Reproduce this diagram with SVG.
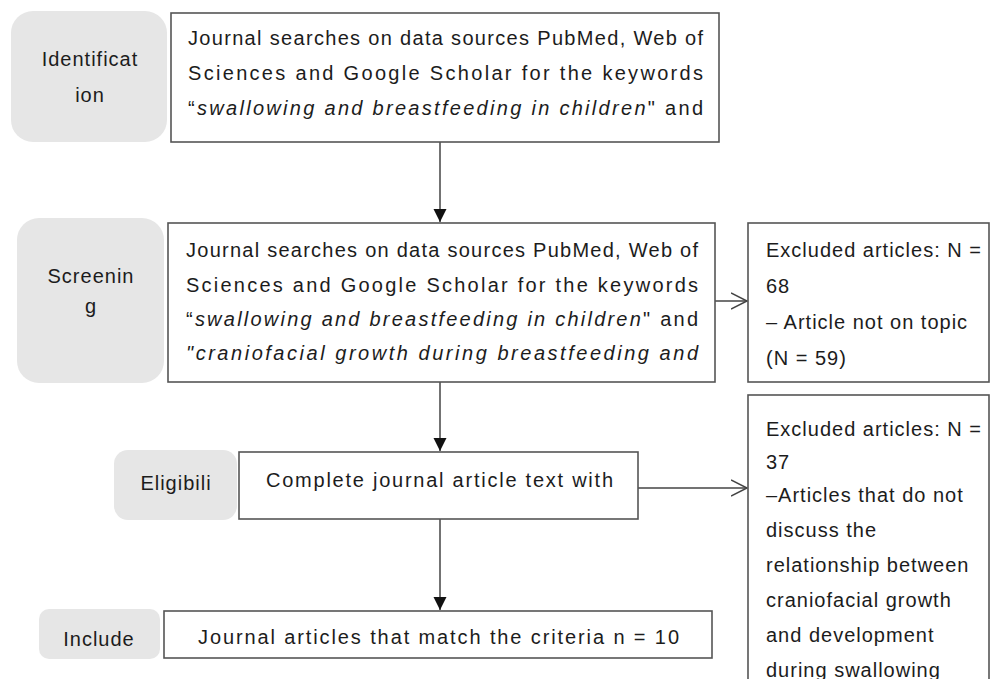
<svg xmlns="http://www.w3.org/2000/svg" width="992" height="679" viewBox="0 0 992 679">
<style>
.lbl{fill:#e6e6e6;stroke:none}
.box{fill:#fff;stroke:#555;stroke-width:1.6}
.t{font-family:"Liberation Sans","DejaVu Sans",sans-serif;font-size:20px;fill:#1c1c1c}
.c{text-anchor:middle}
.ls{letter-spacing:1px}
.i{font-style:italic}
.conn{stroke:#444;stroke-width:1.5;fill:none}
</style>
<defs>
<marker id="fa" markerUnits="userSpaceOnUse" markerWidth="14" markerHeight="14" refX="13" refY="6.5" orient="auto">
<path d="M0,0 L13,6.5 L0,13 z" fill="#111"/>
</marker>
<marker id="oa" markerUnits="userSpaceOnUse" markerWidth="20" markerHeight="20" refX="16" refY="9" orient="auto">
<path d="M0,1 L16,9 L0,17" fill="none" stroke="#444" stroke-width="1.5"/>
</marker>
</defs>

<g id="connectors">
<line class="conn" x1="440" y1="142" x2="440" y2="222" marker-end="url(#fa)"/>
<line class="conn" x1="440" y1="382" x2="440" y2="451" marker-end="url(#fa)"/>
<line class="conn" x1="440" y1="519" x2="440" y2="610" marker-end="url(#fa)"/>
<line class="conn" x1="715" y1="301" x2="747" y2="301" marker-end="url(#oa)"/>
<line class="conn" x1="638" y1="488" x2="747" y2="488" marker-end="url(#oa)"/>
</g>

<g id="identification">
<rect class="lbl" x="11" y="11" width="156" height="131" rx="22"/>
<text class="t c ls" x="90" y="66">Identificat</text>
<text class="t c ls" x="90" y="102">ion</text>
<rect class="box" x="171" y="13" width="548" height="129"/>
<text class="t" x="188" y="45" textLength="515" lengthAdjust="spacing">Journal searches on data sources PubMed, Web of</text>
<text class="t" x="188" y="80" textLength="515" lengthAdjust="spacing">Sciences and Google Scholar for the keywords</text>
<text class="t" x="188" y="115" textLength="515" lengthAdjust="spacing">“<tspan class="i">swallowing and breastfeeding in children</tspan>" and</text>
</g>

<g id="screening">
<rect class="lbl" x="17" y="218" width="147" height="165" rx="22"/>
<text class="t c ls" x="91" y="283">Screenin</text>
<text class="t c ls" x="91" y="313">g</text>
<rect class="box" x="168" y="223" width="547" height="159"/>
<text class="t" x="186" y="257" textLength="512" lengthAdjust="spacing">Journal searches on data sources PubMed, Web of</text>
<text class="t" x="186" y="292" textLength="512" lengthAdjust="spacing">Sciences and Google Scholar for the keywords</text>
<text class="t" x="186" y="326" textLength="512" lengthAdjust="spacing">“<tspan class="i">swallowing and breastfeeding in children</tspan>" and</text>
<text class="t i" x="186" y="360" textLength="512" lengthAdjust="spacing">"craniofacial growth during breastfeeding and</text>
</g>

<g id="excluded-1">
<rect class="box" x="748" y="223" width="241" height="159"/>
<text class="t ls" x="766" y="257">Excluded articles: N =</text>
<text class="t ls" x="766" y="293">68</text>
<text class="t ls" x="766" y="329">– Article not on topic</text>
<text class="t ls" x="766" y="365">(N = 59)</text>
</g>

<g id="eligibility">
<rect class="lbl" x="114" y="450" width="123" height="70" rx="14"/>
<text class="t c ls" x="176" y="490">Eligibili</text>
<rect class="box" x="239" y="452" width="399" height="67"/>
<text class="t" x="266" y="487" textLength="347" lengthAdjust="spacing">Complete journal article text with</text>
</g>

<g id="excluded-2">
<rect class="box" x="748" y="395" width="241" height="300"/>
<text class="t ls" x="766" y="436">Excluded articles: N =</text>
<text class="t ls" x="766" y="469">37</text>
<text class="t ls" x="766" y="502">–Articles that do not</text>
<text class="t ls" x="766" y="537">discuss the</text>
<text class="t ls" x="766" y="572">relationship between</text>
<text class="t ls" x="766" y="607">craniofacial growth</text>
<text class="t ls" x="766" y="642">and development</text>
<text class="t ls" x="766" y="677">during swallowing</text>
</g>

<g id="included">
<rect class="lbl" x="39" y="609" width="121" height="50" rx="10"/>
<text class="t c ls" x="99" y="646">Include</text>
<rect class="box" x="164" y="611" width="548" height="47"/>
<text class="t" x="198" y="644" textLength="481" lengthAdjust="spacing">Journal articles that match the criteria n = 10</text>
</g>
</svg>
